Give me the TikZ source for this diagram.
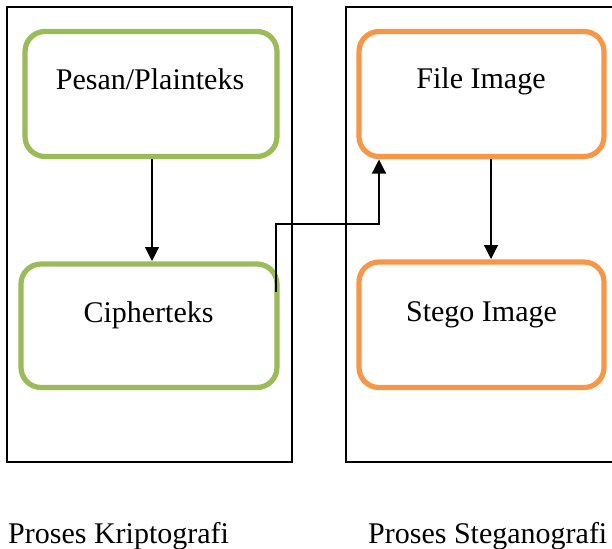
\documentclass[tikz,border=0pt]{standalone}
\usepackage{fontspec}
\setmainfont{Liberation Serif}
\usetikzlibrary{arrows.meta}
\definecolor{kgreen}{HTML}{9BBB59}
\definecolor{korange}{HTML}{F79646}
\begin{document}
\begin{tikzpicture}[x=1pt,y=-1pt,
  frame/.style={draw=black,line width=1.3pt},
  greenbox/.style={draw=kgreen,line width=5.2pt,rounded corners=20pt},
  orangebox/.style={draw=korange,line width=5.2pt,rounded corners=20pt},
  lbl/.style={font=\fontsize{30}{35}\selectfont,inner sep=0pt,anchor=base},
  conn/.style={draw=black,line width=1.2pt,-{Triangle[length=14pt,width=14pt]}}]
\useasboundingbox (0,0) rectangle (612,548);
% process frames
\draw[frame] (7,7) rectangle (292,462);
\draw[frame] (614,7) -- (346,7) -- (346,462) -- (614,462);
% cryptography boxes
\draw[greenbox] (25,31.5) rectangle (277,156.5);
\draw[greenbox] (21,264) rectangle (277,387.5);
% steganography boxes
\draw[orangebox] (359,31.5) rectangle (604,156.5);
\draw[orangebox] (359,262) rectangle (604,387.5);
% box anchors
\coordinate (pt) at (152,159.5);
\coordinate (ctop) at (152,261);
\coordinate (cout) at (276,292);
\coordinate (fin) at (379,159.5);
\coordinate (fbot) at (491,159.5);
\coordinate (stop) at (491,259);
\node[lbl] (pesan) at (150,90) {Pesan/Plainteks};
\node[lbl] (cipher) at (148.5,322) {Cipherteks};
\node[lbl] (file) at (481,89) {File Image};
\node[lbl] (stego) at (481.5,321) {Stego Image};
\node[lbl,anchor=base west] (kripto) at (8,543) {Proses Kriptografi};
\node[lbl,anchor=base west] (stegano) at (368,543) {Proses Steganografi};
% connectors
\draw[conn] (pt) -- (ctop);
\draw[conn] (fbot) -- (stop);
\draw[conn] (cout) -- (276,224) -- (379,224) -- (fin);
\end{tikzpicture}
\end{document}
